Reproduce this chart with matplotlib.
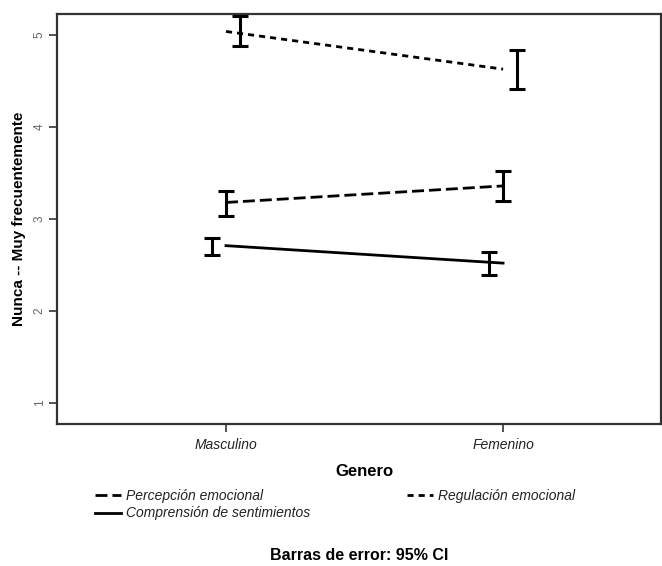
import numpy as np
import matplotlib
matplotlib.use('Agg')
import matplotlib.pyplot as plt

plt.rcParams['font.family'] = ['Liberation Sans', 'DejaVu Sans']

categorias = ['Masculino', 'Femenino']

# medias e intervalos de confianza 95%
percepcion = [3.18, 3.36]
percepcion_lo = [3.03, 3.20]
percepcion_hi = [3.30, 3.52]

regulacion = [5.04, 4.63]
regulacion_lo = [4.88, 4.41]
regulacion_hi = [5.21, 4.84]

comprension = [2.71, 2.52]
comprension_lo = [2.61, 2.39]
comprension_hi = [2.79, 2.64]

W, H = 662, 566
fig = plt.figure(figsize=(W / 100, H / 100), dpi=100)
ax = fig.add_axes([57 / W, 1 - 424 / H, (661 - 57) / W, (424 - 14) / H])

x = np.arange(len(categorias))
series = [
    ('Percepción emocional', percepcion, percepcion_lo, percepcion_hi, (0, (4.3, 1.8)), 0.0),
    ('Comprensión de sentimientos', comprension, comprension_lo, comprension_hi, '-', -0.05),
    ('Regulación emocional', regulacion, regulacion_lo, regulacion_hi, (0, (2.2, 1.8)), 0.05),
]

handles = []
for name, m, lo, hi, ls, off in series:
    m = np.array(m)
    lo = np.array(lo)
    hi = np.array(hi)
    h, = ax.plot(x, m, color='black', linestyle=ls, linewidth=2.0, label=name)
    handles.append(h)
    ax.errorbar(x + off, (lo + hi) / 2, yerr=(hi - lo) / 2, fmt='none',
                ecolor='black', elinewidth=2.2, capsize=5.5, capthick=2.2)

ax.set_xlim(-0.61, 1.57)
ax.set_ylim(0.77, 5.23)
ax.set_xticks(x)
ax.set_xticklabels(categorias, style='italic', fontsize=10, color='#222222')
ax.set_yticks([1, 2, 3, 4, 5])
ax.set_yticklabels(['1', '2', '3', '4', '5'], rotation=90, fontsize=8.5,
                   color='#666666', va='center')
ax.tick_params(axis='both', direction='out', length=6, width=1.2, color='#333333')
ax.tick_params(axis='x', pad=4)
ax.tick_params(axis='y', pad=2)
for s in ax.spines.values():
    s.set_linewidth(1.6)
    s.set_color('#333333')

ax.set_ylabel('Nunca -- Muy frecuentemente', fontsize=11, fontweight='bold', labelpad=6)

fig.text(364 / W, 1 - 472 / H, 'Genero', ha='center', va='center',
         fontsize=12, fontweight='bold')

leg = fig.legend(handles=handles, loc='upper left', bbox_to_anchor=(95 / W, 1 - 489 / H),
                 ncol=2, frameon=False, borderpad=0, borderaxespad=0,
                 handlelength=1.9, handletextpad=0.3, columnspacing=7.0,
                 labelspacing=0.25, prop={'style': 'italic', 'size': 10})
for t in leg.get_texts():
    t.set_color('#222222')

fig.text(359 / W, 1 - 556 / H, 'Barras de error: 95% CI', ha='center', va='center',
         fontsize=11.5, fontweight='bold',
         family=['Liberation Sans Narrow', 'DejaVu Sans Condensed', 'Liberation Sans'])

plt.savefig('out.png', dpi=100)
